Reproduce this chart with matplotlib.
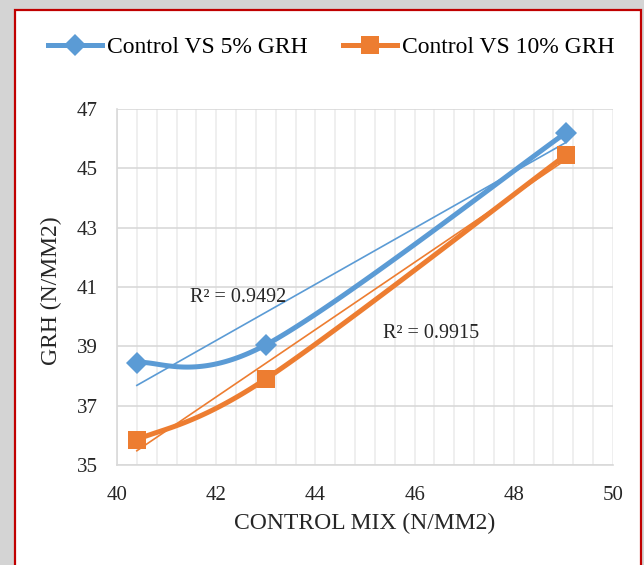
import matplotlib
matplotlib.use("Agg")
import matplotlib.pyplot as plt
import numpy as np
from matplotlib.patches import Rectangle
from matplotlib.ticker import MultipleLocator

# ── Data ──────────────────────────────────────────────────────────────────
control_mix = [40.4, 43.0, 49.05]
grh_5 = [38.45, 39.05, 46.2]
grh_10 = [35.85, 37.9, 45.45]
labels = ["Control VS 5% GRH", "Control VS 10% GRH"]
r2_labels = ["R² = 0.9492", "R² = 0.9915"]
y_ticks = [35, 37, 39, 41, 43, 45, 47]

BLUE = "#5b9bd5"
ORANGE = "#ed7d31"
TEXT = "#262626"

plt.rcParams["font.family"] = ["Liberation Serif", "DejaVu Serif"]


def smooth(xs, ys, n=60):
    """Excel-like smoothed line: cubic Bezier with Catmull-Rom controls."""
    x = np.asarray(xs, float)
    y = np.asarray(ys, float)
    px = np.concatenate([[x[0]], x, [x[-1]]])
    py = np.concatenate([[y[0]], y, [y[-1]]])
    out_x, out_y = [], []
    t = np.linspace(0, 1, n)
    for i in range(1, len(px) - 2):
        p0 = np.array([px[i], py[i]])
        p3 = np.array([px[i + 1], py[i + 1]])
        c1 = p0 + (p3 - np.array([px[i - 1], py[i - 1]])) / 6
        c2 = p3 - (np.array([px[i + 2], py[i + 2]]) - p0) / 6
        pts = ((1 - t) ** 3)[:, None] * p0 + (3 * (1 - t) ** 2 * t)[:, None] * c1 \
            + (3 * (1 - t) * t ** 2)[:, None] * c2 + (t ** 3)[:, None] * p3
        out_x.extend(pts[:, 0])
        out_y.extend(pts[:, 1])
    return out_x, out_y


fig = plt.figure(figsize=(6.44, 5.65), dpi=100)

# frame with a soft shadow on the left / top
fig.patches.append(Rectangle((0.0, -0.02), 1.0, 1.04, transform=fig.transFigure,
                             facecolor="#d4d4d4", edgecolor="none", zorder=-3))
fig.patches.append(Rectangle((15 / 644, -0.02), 1 - 18 / 644, 1.0 - 10 / 565 + 0.02,
                             transform=fig.transFigure,
                             facecolor="white", edgecolor="#c00000", lw=1.6, zorder=-2))

ax = fig.add_axes([117 / 644, 1 - 465 / 565, (613 - 117) / 644, (465 - 109) / 565])
ax.set_facecolor("none")
ax.set_zorder(2)

series = [(grh_5, BLUE, "D", 11, labels[0]), (grh_10, ORANGE, "s", 12.5, labels[1])]
for ys, color, marker, ms, lab in series:
    sx, sy = smooth(control_mix, ys)
    ax.plot(sx, sy, color=color, lw=3.6, solid_capstyle="round", zorder=3)
    ax.plot(control_mix, ys, ls="none", marker=marker, ms=ms, color=color,
            markeredgewidth=0, zorder=4)
    ax.plot([], [], color=color, lw=3.6, marker=marker, ms=ms, markeredgewidth=0, label=lab)
    # linear trendline
    a, b = np.polyfit(control_mix, ys, 1)
    tx = np.array([control_mix[0], control_mix[-1]])
    ax.plot(tx, a * tx + b, color=color, lw=1.2, zorder=2)

ax.text(41.47, 40.65, r2_labels[0], fontsize=14.5, color=TEXT, va="center")
ax.text(45.36, 39.44, r2_labels[1], fontsize=14.5, color=TEXT, va="center")

ax.set_xlim(40, 50)
ax.set_ylim(35, 47)
ax.xaxis.set_major_locator(MultipleLocator(2))
ax.xaxis.set_minor_locator(MultipleLocator(0.4))
ax.set_yticks(y_ticks)
ax.grid(True, which="major", axis="y", color="#d9d9d9", lw=1.2, zorder=0)
ax.grid(True, which="both", axis="x", color="#ececec", lw=1.2, zorder=0)
ax.tick_params(which="both", length=0, labelsize=15, colors=TEXT)
ax.tick_params(axis="x", pad=15)
ax.tick_params(axis="y", pad=14)
for s in ["top", "right"]:
    ax.spines[s].set_visible(False)
for s in ["left", "bottom"]:
    ax.spines[s].set_color("#d9d9d9")
    ax.spines[s].set_linewidth(1.2)

ax.set_xlabel("CONTROL MIX (N/MM2)", fontsize=17, color=TEXT)
ax.set_ylabel("GRH (N/MM2)", fontsize=17, color=TEXT)
ax.xaxis.set_label_coords(0.5, -0.135)
ax.yaxis.set_label_coords(-0.111, 0.49)

fig.legend(loc="center", bbox_to_anchor=(331 / 644, 1 - 47 / 565), ncol=2, frameon=False,
           fontsize=17, handlelength=2.3, handletextpad=0.2, columnspacing=1.5)

fig.savefig("out.png", dpi=100)
